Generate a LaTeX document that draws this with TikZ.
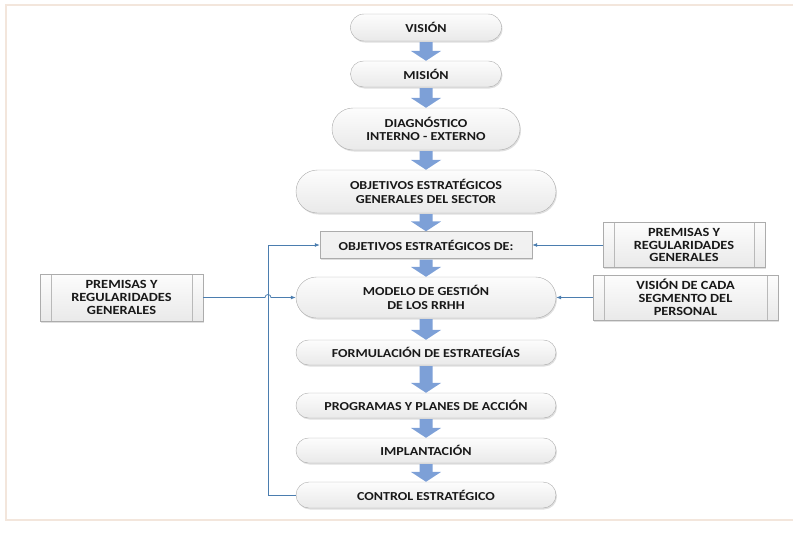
\documentclass[tikz,border=0pt]{standalone}
\usepackage{fontspec}
\setmainfont{Carlito}[FakeStretch=1.15]
\usetikzlibrary{arrows.meta,shapes.misc,shadows}

\definecolor{flechaazul}{RGB}{125,160,215}
\definecolor{enlaceazul}{RGB}{75,125,175}
\definecolor{marco}{RGB}{243,230,220}

\tikzset{
  caja/.style={draw=gray!65, top color=gray!2, bottom color=gray!17,
    drop shadow={shadow xshift=1pt,shadow yshift=-1.5pt,opacity=0.25},
    font=\bfseries\fontsize{12.2}{13.3}\selectfont, text=black!90,
    align=center, inner sep=0pt},
  etapa/.style={caja, rounded rectangle, minimum width=260pt, minimum height=25pt},
  objetivo/.style={caja, rectangle, top color=gray!10, bottom color=gray!12,
    minimum width=212pt, minimum height=27pt},
  premisa/.style={caja, rectangle, font=\bfseries\fontsize{12.5}{12.8}\selectfont,
    minimum height=45pt,
    path picture={\draw[gray!55]
      ([xshift=11pt]path picture bounding box.north west) -- ([xshift=11pt]path picture bounding box.south west)
      ([xshift=-11pt]path picture bounding box.north east) -- ([xshift=-11pt]path picture bounding box.south east);}},
  flecha/.style={draw=flechaazul, line width=13pt, -{Triangle[width=30pt,length=10pt]}, shorten <=1pt},
  enlace/.style={draw=enlaceazul, line width=0.8pt},
  punta/.style={-{Latex[length=5pt,width=4pt]}}
}

\begin{document}
\begin{tikzpicture}[x=1pt, y=-1pt]
    \useasboundingbox (0,0) rectangle (793,533);
    \draw [marco, line width=1.5pt] (793,5) -- (6,5) -- (6,520) -- (793,520);

    \node [etapa, minimum width=151pt, minimum height=27pt] at (426,27.5) (vis) {VISIÓN};
    \node [etapa, minimum width=151pt, minimum height=26pt] at (426,74) (mis) {MISIÓN};
    \node [etapa, minimum width=188pt, minimum height=42pt] at (426,129) (diag) {DIAGNÓSTICO\\INTERNO - EXTERNO};
    \node [etapa, minimum height=43pt] at (426,191.5) (ogen) {OBJETIVOS ESTRATÉGICOS\\GENERALES DEL SECTOR};
    \node [objetivo] at (426,245) (ode) {OBJETIVOS ESTRATÉGICOS DE:};
    \node [etapa, minimum height=41pt] at (426,297.5) (mod) {MODELO DE GESTIÓN\\DE LOS RRHH};
    \node [etapa] at (426,352.5) (form) {FORMULACIÓN DE ESTRATEGÍAS};
    \node [etapa] at (426,405.5) (prog) {PROGRAMAS Y PLANES DE ACCIÓN};
    \node [etapa] at (426,450.5) (impl) {IMPLANTACIÓN};
    \node [etapa, minimum height=26pt] at (426,495) (ctl) {CONTROL ESTRATÉGICO};

    \node [premisa, minimum width=163pt, minimum height=47pt] at (121.5,297.5) (pl) {PREMISAS Y\\REGULARIDADES\\GENERALES};
    \node [premisa, minimum width=162pt] at (684,245) (pr) {PREMISAS Y\\REGULARIDADES\\GENERALES};
    \node [premisa, minimum width=185pt] at (685.5,297.5) (vc) {VISIÓN DE CADA\\SEGMENTO DEL\\PERSONAL};

    \coordinate (hop) at (265,297.5);

    \path [flecha] (vis) -- (mis);
    \path [flecha] (mis) -- (diag);
    \path [flecha] (diag) -- (ogen);
    \path [flecha] (ogen) -- (ode);
    \path [flecha] (ode) -- (mod);
    \path [flecha] (mod) -- (form);
    \path [flecha] (form) -- (prog);
    \path [flecha] (prog) -- (impl);
    \path [flecha] (impl) -- (ctl);

    \path [enlace, punta] (ctl.west) -- ([xshift=3pt]hop |- ctl.west) |- (ode.west);
    \path [enlace, punta] (pl.east) -- (hop) arc[start angle=180, end angle=0, radius=3pt] -- (mod.west);
    \path [enlace, punta] (pr.west) -- (ode.east);
    \path [enlace, punta] (vc.west) -- (mod.east);
\end{tikzpicture}
\end{document}
